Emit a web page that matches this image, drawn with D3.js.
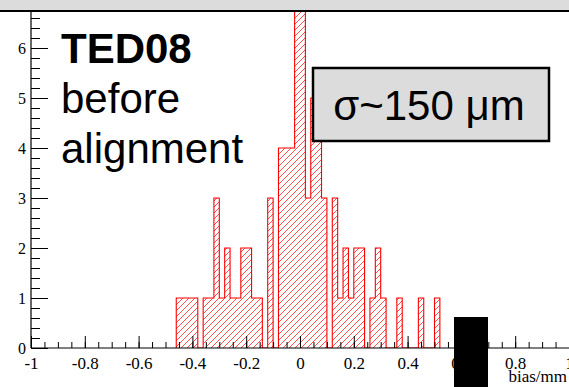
<!DOCTYPE html>
<html>
<head>
<meta charset="utf-8">
<script src="https://cdn.jsdelivr.net/npm/d3@7"></script>
<style>
  body { margin: 0; background: #fff; }
  svg { display: block; }
</style>
</head>
<body>
<div id="chart"></div>
<script>
// histogram contents (non-empty bins only, bin width 0.02)
const binWidth = 0.02;
const binLow = [-0.46, -0.44, -0.42, -0.40,
  -0.36, -0.34, -0.32, -0.30, -0.28, -0.26, -0.24, -0.22, -0.20, -0.18, -0.16,
  -0.12,
  -0.08, -0.06, -0.04, -0.02, 0.00, 0.02, 0.04, 0.06, 0.08,
  0.12, 0.14, 0.16, 0.18, 0.20, 0.22,
  0.26, 0.28, 0.30,
  0.36, 0.44, 0.50];
const counts = [1, 1, 1, 1,
  1, 1, 3, 1, 2, 1, 1, 2, 2, 1, 1,
  3,
  4, 4, 4, 7, 7, 3, 5, 5, 3,
  3, 1, 2, 1, 2, 2,
  1, 2, 1,
  1, 1, 1];

const xMajor = [-1, -0.8, -0.6, -0.4, -0.2, 0, 0.2, 0.4, 0.6, 0.8, 1];
const yMajor = [0, 1, 2, 3, 4, 5, 6];
const titleLines = ["TED08", "before", "alignment"];
const sigmaLabel = "σ~150 μm";
const xTitle = "bias/mm";

const width = 569, height = 387;
const margin = { top: 12, left: 31, bottom: 39, right: 0 };

const x = d3.scaleLinear().domain([-1, 1]).range([margin.left, width - margin.right]);
const y = d3.scaleLinear().domain([0, 6.72]).range([height - margin.bottom, margin.top]);

const xMinor = d3.range(-20, 21).map(i => i * 0.05);
const yMinor = d3.range(0, 34).map(i => i * 0.2);

const bins = binLow.map((lo, i) => ({ lo: lo, hi: lo + binWidth, n: counts[i] }));

const svg = d3.select("#chart").append("svg")
  .attr("width", width)
  .attr("height", height);

const yTop = y(6.72), yBase = y(0);

const defs = svg.append("defs");
defs.append("clipPath").attr("id", "frame")
  .append("rect")
  .attr("x", x(-1)).attr("y", yTop)
  .attr("width", x(1) - x(-1)).attr("height", yBase - yTop);

// clip region = union of the bins, used for the hatching
defs.append("clipPath").attr("id", "binsClip")
  .selectAll("rect").data(bins).enter()
  .append("rect")
  .attr("x", d => x(d.lo))
  .attr("y", d => Math.max(y(d.n), yTop))
  .attr("width", d => x(d.hi) - x(d.lo))
  .attr("height", d => yBase - Math.max(y(d.n), yTop));

// grey band above the frame
svg.append("rect")
  .attr("x", 0).attr("y", 0)
  .attr("width", width).attr("height", 10)
  .attr("fill", "#dcdcdc");

// hatching lines "/" every 6 px, clipped to the bins
const step = 6;
const hLines = d3.range(-60, 100).map(k => x(-1) + k * step);
svg.append("g")
  .attr("clip-path", "url(#binsClip)")
  .selectAll("line").data(hLines).enter()
  .append("line")
  .attr("x1", d => d).attr("y1", yBase)
  .attr("x2", d => d + (yBase - yTop)).attr("y2", yTop)
  .attr("stroke", "#ff3b3b")
  .attr("stroke-width", 0.9);

const g = svg.append("g").attr("clip-path", "url(#frame)");

// step outline, dropping to zero between separated bins
const pts = [];
bins.forEach((d, i) => {
  const prev = bins[i - 1];
  const next = bins[i + 1];
  if (!prev || Math.abs(prev.hi - d.lo) > 1e-6) pts.push([d.lo, 0]);
  pts.push([d.lo, d.n], [d.hi, d.n]);
  if (!next || Math.abs(next.lo - d.hi) > 1e-6) pts.push([d.hi, 0]);
});
g.append("path")
  .datum(pts)
  .attr("d", d3.line().x(d => x(d[0])).y(d => y(d[1])))
  .attr("fill", "none")
  .attr("stroke", "#ff0000")
  .attr("stroke-width", 1.1);

// axes (ticks point into the frame, ROOT style)
const labelFont = "'Liberation Serif', 'DejaVu Serif', serif";
const fmt = v => (Math.abs(v) < 1e-9 ? "0" : String(+v.toFixed(1)));

svg.append("g")
  .attr("transform", `translate(0,${yBase})`)
  .call(d3.axisBottom(x).tickValues(xMinor).tickSize(-6).tickFormat(""))
  .call(a => a.select(".domain").remove());
const xa = svg.append("g")
  .attr("transform", `translate(0,${yBase})`)
  .call(d3.axisBottom(x).tickValues(xMajor).tickSize(-12).tickPadding(9).tickFormat(fmt));
xa.select(".domain").attr("d", `M${x(-1)},0H${x(1)}`).attr("stroke-width", 1.2);
xa.selectAll("text").attr("font-family", labelFont).attr("font-size", 17).attr("fill", "#000");

svg.append("g")
  .attr("transform", `translate(${x(-1)},0)`)
  .call(d3.axisLeft(y).tickValues(yMinor).tickSize(-9).tickFormat(""))
  .call(a => a.select(".domain").remove());
const ya = svg.append("g")
  .attr("transform", `translate(${x(-1)},0)`)
  .call(d3.axisLeft(y).tickValues(yMajor).tickSize(-17).tickPadding(5).tickFormat(d3.format("d")));
ya.select(".domain").attr("d", `M0,${yBase}V${yTop}`).attr("stroke-width", 1.2);
ya.selectAll("text").attr("font-family", labelFont).attr("font-size", 16).attr("fill", "#000");

// top frame line
svg.append("line")
  .attr("x1", 0).attr("x2", width)
  .attr("y1", 11).attr("y2", 11)
  .attr("stroke", "#000").attr("stroke-width", 2);

svg.append("text")
  .attr("x", width - 2).attr("y", 382)
  .attr("text-anchor", "end")
  .attr("font-family", labelFont)
  .attr("font-size", 17)
  .text(xTitle);

// detector label
const sans = "'Liberation Sans', Arial, Helvetica, sans-serif";
svg.append("g").selectAll("text").data(titleLines).enter()
  .append("text")
  .attr("x", 61)
  .attr("y", (d, i) => 63 + i * 50)
  .attr("font-family", sans)
  .attr("font-size", 42)
  .attr("font-weight", (d, i) => (i === 0 ? "bold" : "normal"))
  .text(d => d);

// resolution box
svg.append("rect")
  .attr("x", 313).attr("y", 68)
  .attr("width", 236).attr("height", 73)
  .attr("fill", "#dcdcdc")
  .attr("stroke", "#000")
  .attr("stroke-width", 2.5);
svg.append("text")
  .attr("x", 429).attr("y", 120)
  .attr("text-anchor", "middle")
  .attr("font-family", sans)
  .attr("font-size", 42)
  .text(sigmaLabel);

// black patch over the 0.6 label
svg.append("rect")
  .attr("x", 454).attr("y", 317)
  .attr("width", 34).attr("height", 70)
  .attr("fill", "#000");
</script>
</body>
</html>
